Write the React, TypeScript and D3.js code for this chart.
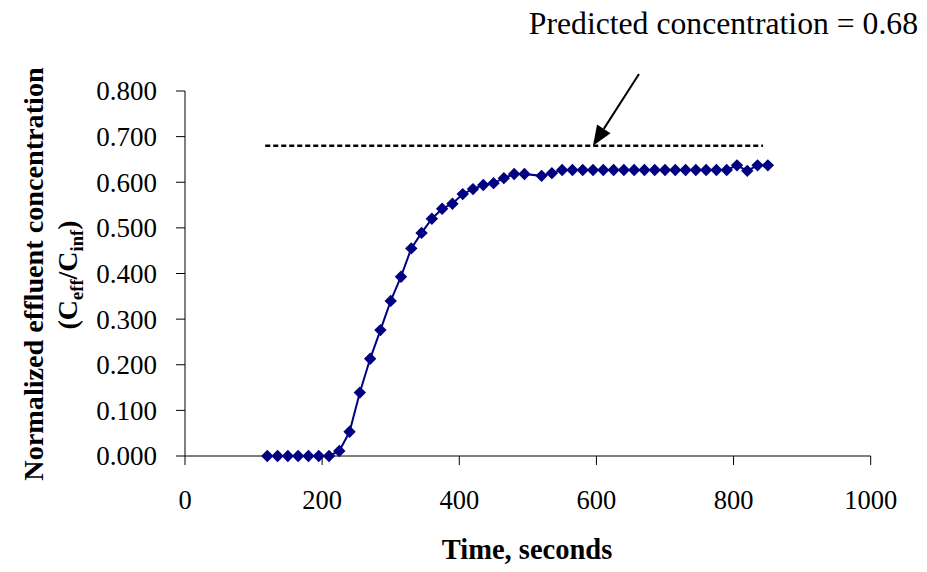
import React from "react";
import * as d3 from "d3";

const times = [120,135,150,165,180,195,210,225,240,255,270,285,300,315,330,345,360,375,390,405,420,435,450,465,480,495,520,535,550,565,580,595,610,625,640,655,670,685,700,715,730,745,760,775,790,805,820,835,850];
const values = [0,0,0,0,0,0,0,0.011,0.053,0.139,0.213,0.276,0.340,0.393,0.455,0.489,0.520,0.542,0.553,0.574,0.585,0.594,0.598,0.609,0.618,0.618,0.614,0.620,0.627,0.627,0.627,0.627,0.627,0.627,0.627,0.627,0.627,0.627,0.627,0.627,0.627,0.627,0.627,0.627,0.627,0.637,0.625,0.637,0.637];
const xTicks = [0,200,400,600,800,1000];
const yTicks = [0,0.1,0.2,0.3,0.4,0.5,0.6,0.7,0.8];
const predicted = 0.68;
const predictedRange = [117, 843];
const annotation = "Predicted concentration = 0.68";
const xTitle = "Time, seconds";
const yTitle = "Normalized effluent concentration";

const W = 927, H = 572;
const FONT = "Liberation Serif, Times New Roman, DejaVu Serif, serif";

export default function App() {
  const x = d3.scaleLinear().domain([0, 1000]).range([185, 870.7]);
  const y = d3.scaleLinear().domain([0, 0.8]).range([456, 91]);
  const pts = times.map((t, i) => [t, values[i]] as [number, number]);
  const line = d3.line<[number, number]>().x(d => x(d[0])).y(d => y(d[1]))(pts) || "";
  const r = 6.2;
  const diamond = `M0,${-r}L${r},0L0,${r}L${-r},0Z`;
  const fmt = d3.format(".3f");
  const tip = [x(595), y(predicted)];
  const tail = [639, 74];
  const ang = Math.atan2(tip[1] - tail[1], tip[0] - tail[0]);
  const hl = 20, hw = 8;
  const bx = tip[0] - hl * Math.cos(ang), by = tip[1] - hl * Math.sin(ang);
  const head = `M${tip[0]},${tip[1]}L${bx + hw * Math.sin(ang)},${by - hw * Math.cos(ang)}L${bx - hw * Math.sin(ang)},${by + hw * Math.cos(ang)}Z`;
  return (
    <svg width={W} height={H} style={{ position: "absolute", left: 0, top: 0, background: "#fff", fontFamily: FONT }}>
      <rect width={W} height={H} fill="#fff" />
      <line x1={185} x2={185} y1={91} y2={456} stroke="#000" strokeWidth={1} />
      <line x1={185} x2={870.7} y1={456} y2={456} stroke="#000" strokeWidth={1} />
      {yTicks.map(v => (
        <g key={"y" + v}>
          <line x1={176} x2={185} y1={y(v)} y2={y(v)} stroke="#000" strokeWidth={1} />
          <text x={157} y={y(v)} dy="0.35em" textAnchor="end" fontSize={27} style={{ fontFamily: FONT }}>{fmt(v)}</text>
        </g>
      ))}
      {xTicks.map(v => (
        <g key={"x" + v}>
          <line x1={x(v)} x2={x(v)} y1={456} y2={465} stroke="#000" strokeWidth={1} />
          <text x={x(v)} y={509} textAnchor="middle" fontSize={26.5} style={{ fontFamily: FONT }}>{v}</text>
        </g>
      ))}
      <line x1={x(predictedRange[0])} x2={x(predictedRange[1])} y1={y(predicted)} y2={y(predicted)} stroke="#000" strokeWidth={2.5} strokeDasharray="5,3" />
      <path d={line} fill="none" stroke="#000080" strokeWidth={2} />
      {pts.map((p, i) => (
        <path key={i} d={diamond} transform={`translate(${x(p[0])},${y(p[1])})`} fill="#000080" />
      ))}
      <line x1={tail[0]} y1={tail[1]} x2={bx} y2={by} stroke="#000" strokeWidth={2} />
      <path d={head} fill="#000" />
      <text x={918} y={34} textAnchor="end" fontSize={31.7} style={{ fontFamily: FONT }}>{annotation}</text>
      <text x={527} y={559} textAnchor="middle" fontSize={28.5} fontWeight="bold" style={{ fontFamily: FONT }}>{xTitle}</text>
      <text transform="translate(43,274) rotate(-90)" textAnchor="middle" fontSize={28.2} fontWeight="bold" style={{ fontFamily: FONT }}>{yTitle}</text>
      <text transform="translate(77,275) rotate(-90)" textAnchor="middle" fontSize={28} fontWeight="bold" style={{ fontFamily: FONT }}>
        (C<tspan fontSize={18.5} dy={6}>eff</tspan><tspan dy={-6}>/C</tspan><tspan fontSize={18.5} dy={6}>inf</tspan><tspan dy={-6}>)</tspan>
      </text>
    </svg>
  );
}
